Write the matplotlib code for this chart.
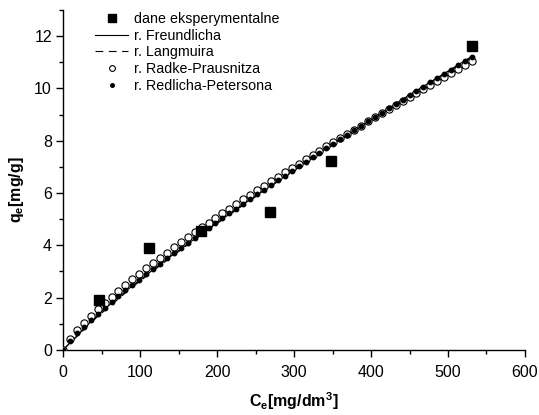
import matplotlib
matplotlib.use("Agg")
import matplotlib.pyplot as plt
from matplotlib.ticker import MultipleLocator

plt.rcParams['font.family'] = ['Liberation Sans', 'DejaVu Sans']

# experimental points
ce_exp = [46.9, 112.0, 179.6, 269.4, 347.5, 531.0]
qe_exp = [1.91, 3.90, 4.55, 5.27, 7.22, 11.62]

# model curves, x grid
ce_model = [0, 9, 18, 27, 36, 45, 54, 63, 72, 81, 90, 99, 108, 117, 126, 135,
            144, 153, 162, 171, 180, 189, 198, 207, 216, 225, 234, 243, 252,
            261, 270, 279, 288, 297, 306, 315, 324, 333, 342, 351, 360, 369,
            378, 387, 396, 405, 414, 423, 432, 441, 450, 459, 468, 477, 486,
            495, 504, 513, 522, 531]

qe_radke = [0.0, 0.43, 0.75, 1.04, 1.31, 1.56, 1.80, 2.03, 2.26, 2.48, 2.70,
            2.91, 3.12, 3.32, 3.52, 3.72, 3.92, 4.11, 4.30, 4.49, 4.68, 4.86,
            5.04, 5.22, 5.40, 5.58, 5.76, 5.93, 6.11, 6.28, 6.45, 6.62, 6.79,
            6.95, 7.12, 7.29, 7.45, 7.61, 7.78, 7.94, 8.10, 8.26, 8.42, 8.58,
            8.74, 8.89, 9.05, 9.21, 9.36, 9.52, 9.67, 9.82, 9.97, 10.13,
            10.28, 10.43, 10.58, 10.73, 10.88, 11.03]

qe_redlich = [0.0, 0.35, 0.63, 0.89, 1.14, 1.38, 1.61, 1.83, 2.05, 2.27, 2.48,
              2.69, 2.90, 3.10, 3.30, 3.50, 3.70, 3.89, 4.09, 4.28, 4.47, 4.66,
              4.85, 5.03, 5.22, 5.40, 5.59, 5.77, 5.95, 6.13, 6.31, 6.49, 6.66,
              6.84, 7.02, 7.19, 7.37, 7.54, 7.71, 7.88, 8.06, 8.23, 8.40, 8.57,
              8.74, 8.90, 9.07, 9.24, 9.41, 9.57, 9.74, 9.90, 10.07, 10.23,
              10.40, 10.56, 10.72, 10.89, 11.05, 11.21]

ce_line = [0, 45, 90, 135, 180, 225, 270, 315, 360, 405, 450, 495, 531]
qe_freundlich = [0.0, 1.34, 2.45, 3.47, 4.44, 5.38, 6.29, 7.18, 8.05, 8.91,
                 9.75, 10.57, 11.23]
qe_langmuir = [0.0, 1.28, 2.40, 3.43, 4.41, 5.35, 6.26, 7.15, 8.02, 8.88,
               9.72, 10.54, 11.19]

fig = plt.figure(figsize=(5.39, 4.15), dpi=100)
ax = fig.add_axes([0.117, 0.157, 0.857, 0.819])

ax.plot(ce_exp, qe_exp, 's', color='black', ms=7.3, ls='none',
        label='dane eksperymentalne', zorder=5)
ax.plot(ce_line, qe_freundlich, '-', color='black', lw=0.8,
        label='r. Freundlicha', zorder=2)
ax.plot(ce_line, qe_langmuir, color='black', lw=0.8, ls=(0, (7, 5)),
        label='r. Langmuira', zorder=2)
ax.plot(ce_model, qe_radke, 'o', ms=5.2, mfc='white', mec='black', mew=0.8,
        ls='none', label='r. Radke-Prausnitza', zorder=3)
ax.plot(ce_model, qe_redlich, 'o', ms=3.2, color='black', ls='none',
        label='r. Redlicha-Petersona', zorder=4)

ax.set_xlim(0, 600)
ax.set_ylim(0, 13)
ax.xaxis.set_major_locator(MultipleLocator(100))
ax.xaxis.set_minor_locator(MultipleLocator(50))
ax.yaxis.set_major_locator(MultipleLocator(2))
ax.yaxis.set_minor_locator(MultipleLocator(1))
ax.spines['top'].set_visible(False)
ax.spines['right'].set_visible(False)
for s in ['left', 'bottom']:
    ax.spines[s].set_linewidth(1.0)
ax.tick_params(which='major', direction='out', length=5, width=1.0,
               labelsize=11.5, pad=3)
ax.tick_params(axis='x', which='major', pad=6)
ax.tick_params(which='minor', direction='out', length=3, width=1.0)

ax.set_xlabel('C$_\\mathregular{e}$[mg/dm$^\\mathregular{3}$]',
              fontsize=11.5, fontweight='bold', labelpad=7)
ax.set_ylabel('q$_\\mathregular{e}$[mg/g]', fontsize=11.5, fontweight='bold')
ax.yaxis.set_label_coords(-0.08, 0.47)

ax.legend(loc='upper left', bbox_to_anchor=(0.07, 0.995), frameon=False,
          fontsize=10.3, handlelength=2.3, handletextpad=0.4,
          labelspacing=0.2, borderpad=0.0, borderaxespad=0.0,
          markerscale=0.8)

fig.savefig('out.png', dpi=100)
